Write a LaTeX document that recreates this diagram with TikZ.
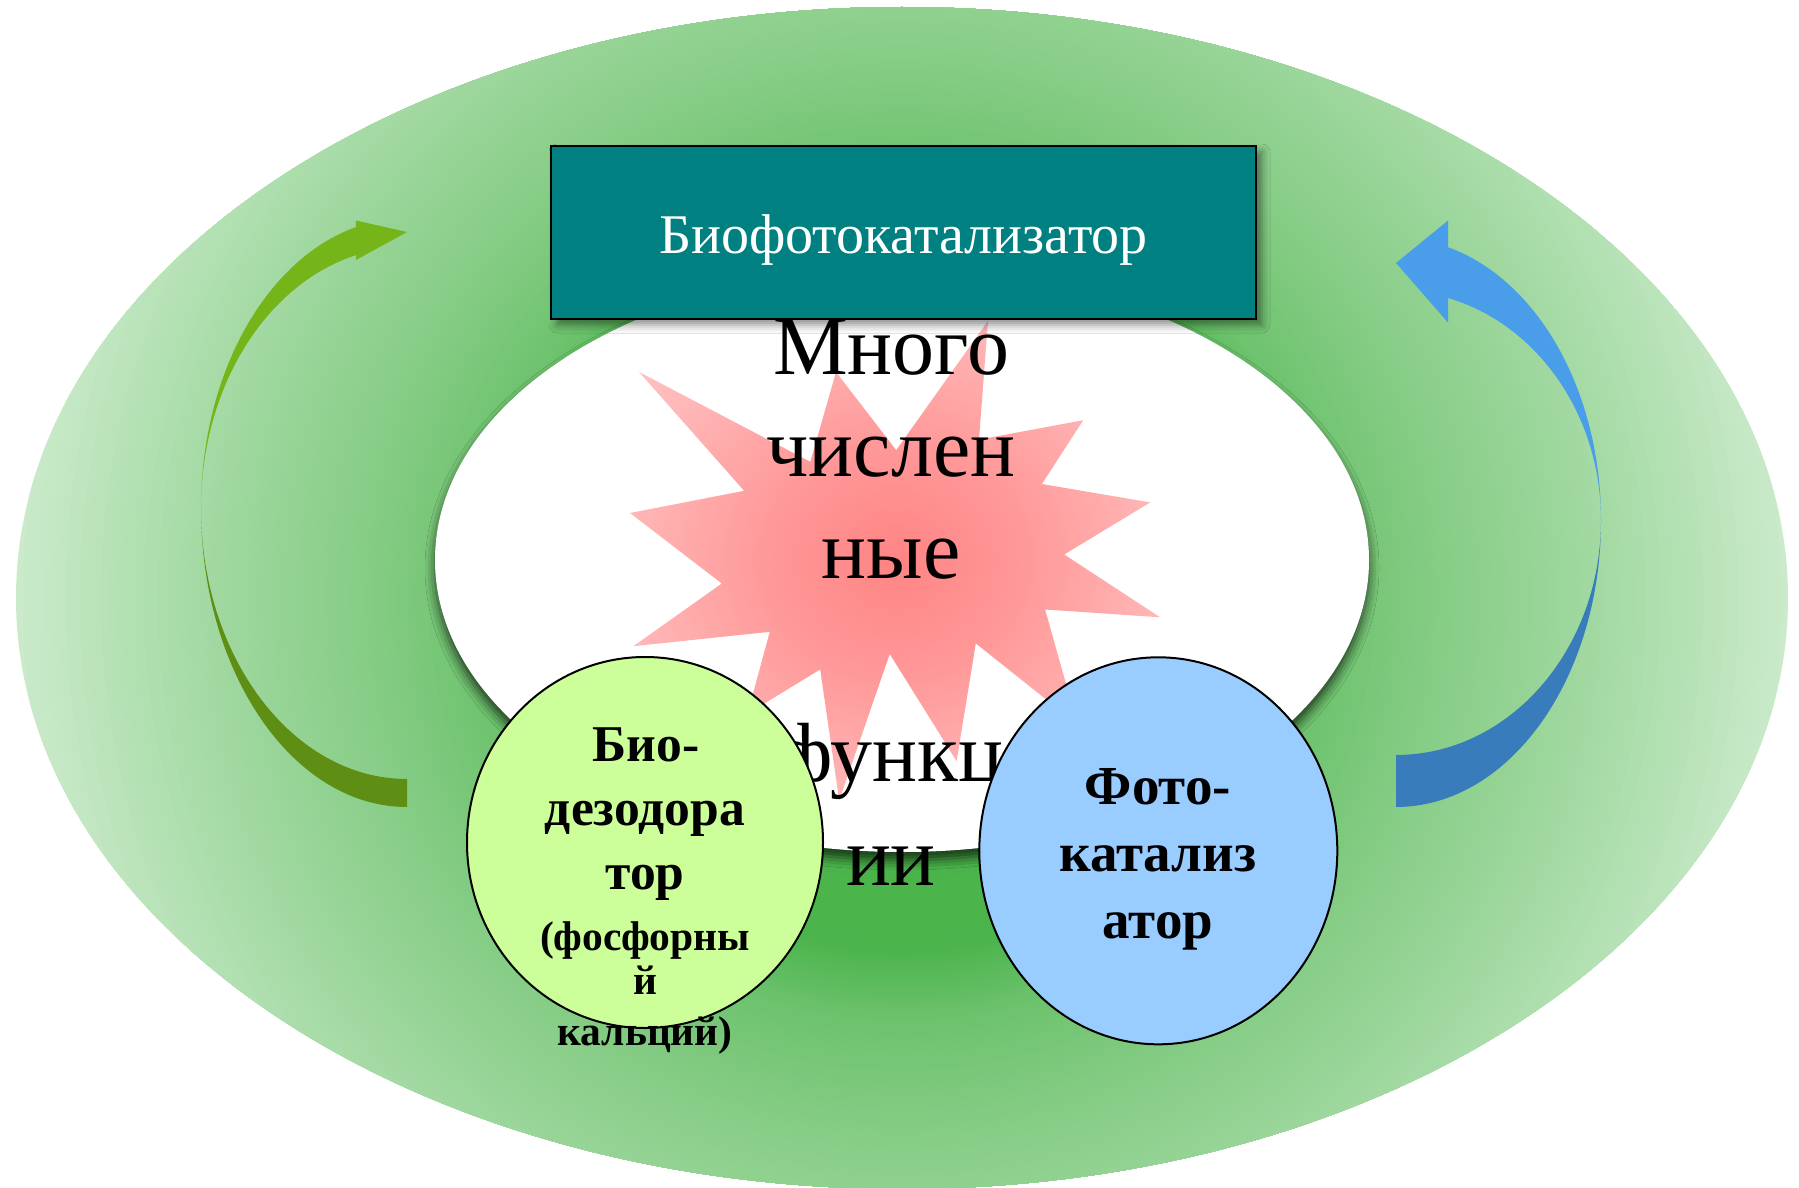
\documentclass[tikz,border=0pt]{standalone}
\usepackage{fontspec}
\setmainfont{Liberation Serif}
\usetikzlibrary{shapes.geometric,shadows.blur}

\definecolor{bgA}{HTML}{44B044}
\definecolor{bgB}{HTML}{4CB44C}
\definecolor{bgC}{HTML}{6DC26D}
\definecolor{bgD}{HTML}{84CC84}
\definecolor{bgE}{HTML}{97D497}
\definecolor{bgF}{HTML}{ABDDAB}
\definecolor{bgG}{HTML}{CAEACA}
\definecolor{stA}{HTML}{FF8484}
\definecolor{stB}{HTML}{FF9898}
\definecolor{stC}{HTML}{FFB8B8}
\definecolor{stD}{HTML}{FFDEDE}
\definecolor{stE}{HTML}{FFEAEA}
\definecolor{boxteal}{HTML}{008080}
\definecolor{bioGreen}{HTML}{CCFF99}
\definecolor{photoBlue}{HTML}{99CCFF}
\definecolor{arrGreenL}{HTML}{76B51A}
\definecolor{arrGreenD}{HTML}{5E8E13}
\definecolor{arrBlueL}{HTML}{4A9DE8}
\definecolor{arrBlueD}{HTML}{387CBB}

\pgfdeclareradialshading{starglow}{\pgfpoint{0bp}{0bp}}{color(0bp)=(stA); color(12bp)=(stB); color(26bp)=(stC); color(50bp)=(stD); color(72bp)=(stE)}

\begin{document}
\begin{tikzpicture}[x=0.5pt, y=-0.5pt,
  bigline/.style={font=\fontsize{42}{48}\selectfont, anchor=base, inner sep=0pt},
  biolbl/.style={font=\bfseries\fontsize{25.8}{30}\selectfont, anchor=base, inner sep=0pt},
  biosmall/.style={font=\bfseries\fontsize{20.75}{24}\selectfont, anchor=base, inner sep=0pt},
  photolbl/.style={font=\bfseries\fontsize{27.5}{32}\selectfont, anchor=base, inner sep=0pt},
  blob/.style={ellipse, draw=black, line width=1pt, inner sep=0pt}
]
\useasboundingbox (0,0) rectangle (1799,1188);

% background glow: concentric rings clipped to the outer ellipse
\begin{scope}
  \clip (902,598) ellipse [x radius=886, y radius=591];
  \foreach \ra/\rb/\ca/\cb in {886/744/bgG/bgF, 744/638/bgF/bgE, 638/532/bgE/bgD, 532/425/bgD/bgC, 425/354/bgC/bgB, 354/0/bgB/bgA}{
    \foreach \k in {0,...,19}{
      \pgfmathsetmacro{\rr}{\ra-(\ra-\rb)*\k/20}
      \pgfmathtruncatemacro{\pp}{100*\k/20}
      \fill[\cb!\pp!\ca] (902,598) circle [radius=\rr];
    }
  }
\end{scope}

% green curved arrow (left)
\fill[arrGreenD] (201,508) arc[start angle=180, end angle=90, x radius=206, y radius=299]
  -- (407,779) arc[start angle=90, end angle=180, x radius=206, y radius=271] -- cycle;
\fill[arrGreenL] (201,508) arc[start angle=180, end angle=255.67, x radius=206, y radius=261]
  -- (356,260) -- (407,232) -- (356,220.5) -- (355.8,227.1)
  arc[start angle=255.6, end angle=180, x radius=206, y radius=290] -- cycle;

% blue curved arrow (right)
\fill[arrBlueD] (1601,520) arc[start angle=0, end angle=90, x radius=205, y radius=287]
  -- (1396,755) arc[start angle=90, end angle=0, x radius=205, y radius=235] -- cycle;
\fill[arrBlueL] (1601,520) arc[start angle=0, end angle=-75.3, x radius=205, y radius=282]
  -- (1448,220.5) -- (1396,263) -- (1448,322.5) -- (1448,298)
  arc[start angle=-75.3, end angle=0, x radius=205, y radius=229.5] -- cycle;

% white inner ellipse
\fill[white, blur shadow={shadow xshift=0pt, shadow yshift=-4pt, shadow blur radius=5pt, shadow opacity=70}]
  (902,560) ellipse [x radius=467, y radius=292];

% explosion star
\shade[shading=starglow] (896.2,450.2) -- (836.0,372.0) -- (810.3,461.8) -- (639.1,372.0)
  -- (744.1,490.8) -- (630.0,513.0) -- (721.8,583.5) -- (633.4,646.2) -- (769.8,631.8)
  -- (747.5,713.8) -- (820.2,669.4) -- (839.2,800.4) -- (889.7,654.0) -- (956.6,761.1)
  -- (975.8,643.4) -- (1077.4,724.4) -- (1045.1,609.5) -- (1160.1,617.3) -- (1064.2,554.5)
  -- (1150.2,502.4) -- (1041.9,484.0) -- (1083.2,420.2) -- (979.0,439.6) -- (988.0,320.9) -- cycle;

% central text
\node[bigline] (m1) at (891,374) {Много};
\node[bigline] (m2) at (891,476) {числен};
\node[bigline] (m3) at (891,578) {ные};
\node[bigline] (m4) at (891,781) {функц};
\node[bigline] (m5) at (891,885) {ии};

% title box
\node[draw=black, line width=1pt, fill=boxteal, minimum width=352.5pt, minimum height=86.5pt,
  inner sep=0pt, text=white, font=\fontsize{28}{32}\selectfont, text height=20.5pt, text depth=0pt,
  blur shadow={shadow xshift=3pt, shadow yshift=-3pt, shadow blur radius=4pt, shadow opacity=45}]
  (box) at (903.5,232.5) {Биофотокатализатор};

% bottom ellipses
\node[blob, fill=bioGreen, minimum width=178pt, minimum height=185.5pt] (bio) at (645,842.5) {};
\node[blob, fill=photoBlue, minimum width=179pt, minimum height=193.5pt] (photo) at (1158.3,850.8) {};

% labels of bio ellipse
\node[biolbl] (b1) at (646,761) {Био-};
\node[biolbl] (b2) at (645,825) {дезодора};
\node[biolbl] (b3) at (645,889) {тор};
\node[biosmall] (b4) at (645,950) {(фосфорны};
\node[biosmall] (b5) at (645,994) {й};
\node[biosmall] (b6) at (645,1045) {кальций)};

% labels of photo ellipse
\node[photolbl] (p1) at (1158,804) {Фото-};
\node[photolbl] (p2) at (1158,871) {катализ};
\node[photolbl] (p3) at (1158,938) {атор};
\end{tikzpicture}
\end{document}
